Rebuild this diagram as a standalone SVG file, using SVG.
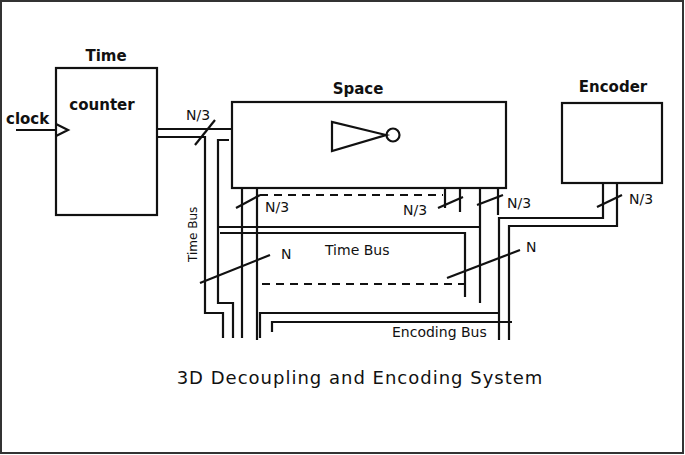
<svg xmlns="http://www.w3.org/2000/svg" width="685" height="455" viewBox="0 0 685 455">
<style>
.w{fill:none;stroke:#111;stroke-width:2.2}
.d{fill:none;stroke:#111;stroke-width:2;stroke-dasharray:8,6}
.b{fill:#fff;stroke:#111;stroke-width:2.2}
text{font-family:"DejaVu Sans",sans-serif;fill:#111}
.t{font-size:15px;font-weight:bold}
.l{font-size:14px}
</style>
<rect x="0" y="0" width="685" height="455" fill="#fff"/>
<rect x="1" y="1" width="682" height="452" fill="none" stroke="#333" stroke-width="2"/>
<g id="counter">
<rect class="b" x="56" y="68" width="101" height="147"/>
<text class="t" x="106" y="61" text-anchor="middle">Time</text>
<text class="t" x="102" y="110" text-anchor="middle">counter</text>
<polyline class="w" points="56,124 68,130 56,136"/>
</g>
<g id="space">
<rect class="b" x="232" y="102" width="274" height="86"/>
<text class="t" x="358" y="94" text-anchor="middle">Space</text>
<polygon class="w" points="332,122 332,151 386,135"/>
<circle class="w" cx="393" cy="135" r="6.5"/>
</g>
<g id="encoder">
<rect class="b" x="562" y="103" width="100" height="80"/>
<text class="t" x="613" y="92" text-anchor="middle">Encoder</text>
</g>
<g id="connectors">
<line class="w" x1="16" y1="130" x2="56" y2="130"/>
<text class="t" x="6" y="124">clock</text>
<line class="w" x1="157" y1="129" x2="232" y2="129"/>
<polyline class="w" points="157,137 205,137 205,313 223,313 223,338"/>
<line class="w" x1="195" y1="145" x2="215" y2="120"/>
<text class="l" x="186" y="120">N/3</text>
<polyline class="w" points="229,140 218,140 218,303 233,303 233,338"/>
<line class="w" x1="218" y1="227" x2="480" y2="227"/>
<polyline class="w" points="220,233 465,233 465,297"/>
<line class="w" x1="242" y1="188" x2="242" y2="338"/>
<line class="w" x1="257" y1="188" x2="257" y2="340"/>
<line class="w" x1="236" y1="208" x2="260" y2="195"/>
<text class="l" x="265" y="212">N/3</text>
<line class="d" x1="260" y1="195" x2="443" y2="195"/>
<line class="w" x1="445" y1="188" x2="445" y2="208"/>
<line class="w" x1="460" y1="188" x2="460" y2="212"/>
<line class="w" x1="438" y1="208" x2="463" y2="197"/>
<text class="l" x="403" y="215">N/3</text>
<line class="w" x1="480" y1="188" x2="480" y2="303"/>
<line class="w" x1="498" y1="188" x2="498" y2="215"/>
<line class="w" x1="477" y1="205" x2="503" y2="195"/>
<text class="l" x="507" y="208">N/3</text>
<polyline class="w" points="499,340 499,218 603,218 603,183"/>
<polyline class="w" points="509,340 509,226 617,226 617,183"/>
<line class="w" x1="597" y1="207" x2="622" y2="195"/>
<text class="l" x="629" y="204">N/3</text>
<polyline class="w" points="260,338 260,313 499,313"/>
<polyline class="w" points="272,332 272,322 512,322"/>
<line class="d" x1="262" y1="284" x2="465" y2="284"/>
<line class="w" x1="200" y1="283" x2="270" y2="255"/>
<text class="l" x="281" y="259">N</text>
<line class="w" x1="447" y1="278" x2="520" y2="250"/>
<text class="l" x="526" y="252">N</text>
<text class="l" x="325" y="255">Time Bus</text>
<text class="l" x="392" y="337">Encoding Bus</text>
<text class="l" transform="translate(197,262) rotate(-90)" style="font-size:12px">Time Bus</text>
</g>
<text x="360" y="384" text-anchor="middle" style="font-size:18px;letter-spacing:1px">3D Decoupling and Encoding System</text>
</svg>
